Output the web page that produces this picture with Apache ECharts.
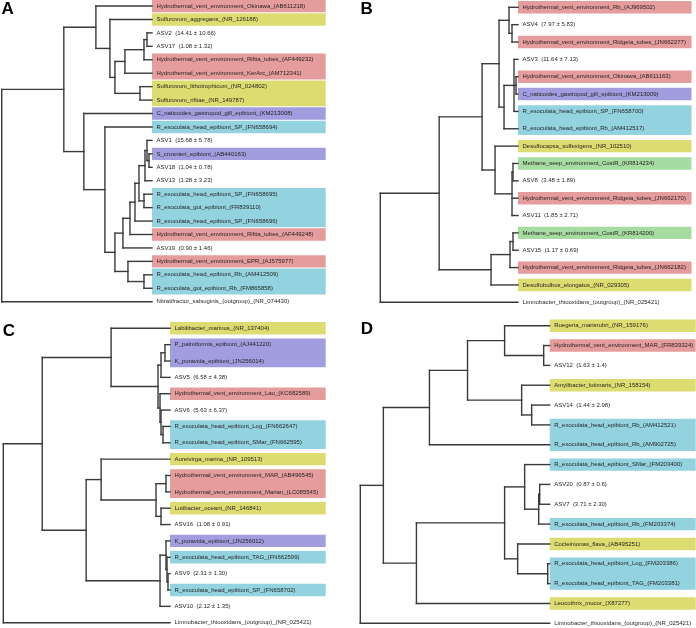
<!DOCTYPE html>
<html>
<head>
<meta charset="utf-8">
<script src="https://cdn.jsdelivr.net/npm/echarts@6/dist/echarts.min.js"></script>
<style>
html,body{margin:0;padding:0;background:#fff;}
#chart{width:696px;height:628px;}
</style>
</head>
<body>
<div id="chart"></div>
<script>
// ---------------- DATA ----------------
// Trees: [nodeDepth, child, child, ...]; a number alone is a leaf index.
const leafDepthA = 150;
const labelsA = [
  "Hydrothermal_vent_environment_Okinawa_(AB611218)",
  "Sulfurovum_aggregans_(NR_126188)",
  "ASV2  (14.41 ± 10.66)",
  "ASV17  (1.08 ± 1.32)",
  "Hydrothermal_vent_environment_Riftia_tubes_(AF449232)",
  "Hydrothermal_vent_environment_KerArc_(AM712341)",
  "Sulfurovum_lithotrophicum_(NR_024802)",
  "Sulfurovum_riftiae_(NR_149787)",
  "C_naticoides_gastropod_gill_epibiont_(KM213008)",
  "R_exoculata_head_epibiont_SP_(FN658694)",
  "ASV1  (15.68 ± 5.78)",
  "S_crosnieri_epibiont_(AB440163)",
  "ASV18  (1.04 ± 0.78)",
  "ASV13  (1.28 ± 3.23)",
  "R_exoculata_head_epibiont_SP_(FN658695)",
  "R_exoculata_gut_epibiont_(FR839110)",
  "R_exoculata_head_epibiont_SP_(FN658696)",
  "Hydrothermal_vent_environment_Riftia_tubes_(AF449248)",
  "ASV19  (0.90 ± 1.46)",
  "Hydrothermal_vent_environment_EPR_(AJ575977)",
  "R_exoculata_head_epibiont_Rb_(AM412509)",
  "R_exoculata_gut_epibiont_Rb_(FM865858)",
  "Nitratifractor_salsuginis_(outgroup)_(NR_074430)"
];
const treeA = [0,
  [62,
    [94, 0,
      [108, 1,
        [113,
          [123, [142, [145, 2, 3], 4], 5],
          [138, 6, 7]
        ]
      ]
    ],
    [82, 8,
      [103, 9,
        [113,
          [121,
            [128,
              [133,
                [137,
                  [143, [145, 10, [147, 11, 12]], 13],
                  [142, 14, 15]
                ],
                16
              ],
              17
            ],
            18
          ],
          [126, 19, [142, 20, 21]]
        ]
      ]
    ]
  ],
  22
];
// highlighted boxes: [firstLeaf, lastLeaf, group]
const boxesA = [[0,0,"hv"],[1,1,"ref"],[4,5,"hv"],[6,7,"ref"],[8,8,"gast"],[9,9,"rex"],
  [11,11,"gast"],[14,16,"rex"],[17,17,"hv"],[19,19,"hv"],[20,21,"rex"]];

const leafDepthB = 138;
const labelsB = [
  "Hydrothermal_vent_environment_Rb_(AJ969502)",
  "ASV4  (7.97 ± 5.83)",
  "Hydrothermal_vent_environment_Ridgeia_tubes_(JN662277)",
  "ASV3  (11.64 ± 7.13)",
  "Hydrothermal_vent_environment_Okinawa_(AB611163)",
  "C_naticoides_gastropod_gill_epibiont_(KM213009)",
  "R_exoculata_head_epibiont_SP_(FN658700)",
  "R_exoculata_head_epibiont_Rb_(AM412517)",
  "Desulfocapsa_sulfexigens_(NR_102510)",
  "Methane_seep_environment_CostR_(KR814234)",
  "ASV8  (3.48 ± 1.89)",
  "Hydrothermal_vent_environment_Ridgeia_tubes_(JN662170)",
  "ASV11  (1.85 ± 2.71)",
  "Methane_seep_environment_CostR_(KR814200)",
  "ASV15  (1.17 ± 0.69)",
  "Hydrothermal_vent_environment_Ridgeia_tubes_(JN662182)",
  "Desulfobulbus_elongatus_(NR_029305)",
  "Limnobacter_thiooxidans_(outgroup)_(NR_025421)"
];
const treeB = [0,
  [59,
    [102,
      [119,
        [129, 0, [132, 1, 2]],
        [124, [134, 3, [136, 4, 5], 6], 7]
      ],
      [115, 8, [132, [133, 9, 10], 11, 12]]
    ],
    [111, [130, [133, 13, 14], 15], 16]
  ],
  17
];
const boxesB = [[0,0,"hv"],[2,2,"hv"],[4,4,"hv"],[5,5,"gast"],[6,7,"rex"],[8,8,"ref"],
  [9,9,"seep"],[11,11,"hv"],[13,13,"seep"],[15,15,"hv"],[16,16,"ref"]];

const leafDepthC = 167;
const labelsC = [
  "Labilibacter_marinus_(NR_137404)",
  "P_palmiformis_epibiont_(AJ441220)",
  "K_puravida_epibiont_(JN256014)",
  "ASV5  (6.58 ± 4.38)",
  "Hydrothermal_vent_environment_Lau_(KC682589)",
  "ASV6  (5.63 ± 6.37)",
  "R_exoculata_head_epibiont_Log_(FN662647)",
  "R_exoculata_head_epibiont_SMar_(FN662595)",
  "Aureivirga_marina_(NR_109513)",
  "Hydrothermal_vent_environment_MAR_(AB496545)",
  "Hydrothermal_vent_environment_Marian_(LC085545)",
  "Lutibacter_oceani_(NR_146841)",
  "ASV16  (1.08 ± 0.91)",
  "K_puravida_epibiont_(JN256012)",
  "R_exoculata_head_epibiont_TAG_(FN662599)",
  "ASV9  (2.31 ± 1.30)",
  "R_exoculata_head_epibiont_SP_(FN658702)",
  "ASV10  (2.12 ± 1.35)",
  "Limnobacter_thiooxidans_(outgroup)_(NR_025421)"
];
const treeC = [0,
  [39,
    [108, 0,
      [155,
        [158, [162, 1, 2], 3],
        [157, 4, [158, 5, [160, 6, 7]]]
      ]
    ],
    [83,
      [98, 8, [153, [163, 9, 10], [158, 11, 12]]],
      [157, [163, 13, [164, 14, [165, 15, 16]]], 17]
    ]
  ],
  18
];
const boxesC = [[0,0,"ref"],[1,2,"gast"],[4,4,"hv"],[6,7,"rex"],[8,8,"ref"],[9,10,"hv"],
  [11,11,"ref"],[13,13,"gast"],[14,14,"rex"],[16,16,"rex"]];

const leafDepthD = 189;
const labelsD = [
  "Ruegeria_marisrubri_(NR_159176)",
  "Hydrothermal_vent_environment_MAR_(FR839324)",
  "ASV12  (1.63 ± 1.4)",
  "Amylibacter_lutimaris_(NR_158154)",
  "ASV14  (1.44 ± 2.98)",
  "R_exoculata_head_epibiont_Rb_(AM412521)",
  "R_exoculata_head_epibiont_Rb_(AM902725)",
  "R_exoculata_head_epibiont_SMar_(FM203400)",
  "ASV20  (0.87 ± 0.6)",
  "ASV7  (3.71 ± 2.30)",
  "R_exoculata_head_epibiont_Rb_(FM203374)",
  "Cocleimonas_flava_(AB495251)",
  "R_exoculata_head_epibiont_Log_(FM203386)",
  "R_exoculata_head_epibiont_TAG_(FM203381)",
  "Leucothrix_mucor_(X87277)",
  "Limnobacter_thiooxidans_(outgroup)_(NR_025421)"
];
const treeD = [0,
  [23,
    [69,
      [107,
        [144, 0, [183, 1, 2]],
        [161, 3, [171, 4, 5]]
      ],
      6
    ],
    [56,
      [144,
        [164, 7, [178, [179, 8, 9], 10]],
        [157, 11, [187, 12, 13]]
      ],
      14
    ]
  ],
  15
];
const boxesD = [[0,0,"ref"],[1,1,"hv"],[3,3,"ref"],[5,6,"rex"],[7,7,"rex"],[10,10,"rex"],
  [11,11,"ref"],[12,13,"rex"],[14,14,"ref"]];

const panelLetters = ["A", "B", "C", "D"];

// ---------------- STYLE / LAYOUT ----------------
const groupColors = {hv: "#e59c9c", ref: "#dcdc70", gast: "#a29ddf", rex: "#93d3e0", seep: "#a6dba1"};
const layout = [
  {rootX: 1.7,   leafX: 152,   top: 6,     bottom: 301.7, boxRight: 325.7, letterX: 1.5,  letterY: 9},
  {rootX: 380.3, leafX: 518,   top: 7.3,   bottom: 302.3, boxRight: 691.5, letterX: 360.5, letterY: 9},
  {rootX: 3.3,   leafX: 170,   top: 328.3, bottom: 622.7, boxRight: 325.7, letterX: 2.8,  letterY: 331},
  {rootX: 360.3, leafX: 549.7, top: 325.7, bottom: 623.3, boxRight: 695.7, letterX: 360.8, letterY: 329}
];
const LINE_COLOR = "#3a3a3a";
const LINE_W = 1.4;
const BOX_HALF = 6.2;
const TEXT_FONT = '6px "Liberation Sans", Arial, sans-serif';
const TEXT_COLOR = "#231f20";

const panels = [
  {tree: treeA, labels: labelsA, boxes: boxesA, leafDepth: leafDepthA},
  {tree: treeB, labels: labelsB, boxes: boxesB, leafDepth: leafDepthB},
  {tree: treeC, labels: labelsC, boxes: boxesC, leafDepth: leafDepthC},
  {tree: treeD, labels: labelsD, boxes: boxesD, leafDepth: leafDepthD}
];

function buildSegments(tree, leafDepth) {
  const segs = [];
  function walk(node) {
    if (typeof node === "number") return {x: leafDepth, y: node};
    const depth = node[0];
    const kids = node.slice(1).map(walk);
    const y = (kids[0].y + kids[kids.length - 1].y) / 2;
    segs.push([depth, kids[0].y, depth, kids[kids.length - 1].y]);
    kids.forEach(k => segs.push([depth, k.y, k.x, k.y]));
    return {x: depth, y: y};
  }
  walk(tree);
  return segs;
}

const grids = [], xAxes = [], yAxes = [], series = [], graphics = [];
panels.forEach((p, i) => {
  const L = layout[i];
  grids.push({left: L.rootX, top: L.top, width: L.leafX - L.rootX, height: L.bottom - L.top, containLabel: false});
  xAxes.push({type: "value", gridIndex: i, min: 0, max: p.leafDepth, show: false});
  yAxes.push({type: "value", gridIndex: i, min: 0, max: p.labels.length - 1, inverse: true, show: false});

  // boxes
  series.push({
    type: "custom", xAxisIndex: i, yAxisIndex: i, clip: false, silent: true, z: 1,
    data: p.boxes.map(b => [p.leafDepth, b[0], b[1]]),
    encode: {x: 0, y: [1, 2]},
    renderItem: function (params, api) {
      const a = api.coord([api.value(0), api.value(1)]);
      const b = api.coord([api.value(0), api.value(2)]);
      const g = p.boxes[params.dataIndex][2];
      return {type: "rect", shape: {x: a[0], y: a[1] - BOX_HALF, width: L.boxRight - a[0], height: b[1] - a[1] + 2 * BOX_HALF},
        style: {fill: groupColors[g]}};
    }
  });
  // tree lines
  series.push({
    type: "custom", xAxisIndex: i, yAxisIndex: i, clip: false, silent: true, z: 2,
    data: buildSegments(p.tree, p.leafDepth),
    encode: {x: [0, 2], y: [1, 3]},
    renderItem: function (params, api) {
      const a = api.coord([api.value(0), api.value(1)]);
      const b = api.coord([api.value(2), api.value(3)]);
      return {type: "line", shape: {x1: a[0], y1: a[1], x2: b[0], y2: b[1]},
        style: {stroke: LINE_COLOR, lineWidth: LINE_W, lineCap: "square"}};
    }
  });
  // leaf labels
  series.push({
    type: "custom", xAxisIndex: i, yAxisIndex: i, clip: false, silent: true, z: 3,
    data: p.labels.map((t, k) => [p.leafDepth, k]),
    encode: {x: 0, y: 1},
    renderItem: function (params, api) {
      const a = api.coord([api.value(0), api.value(1)]);
      return {type: "text", x: a[0] + 4.5, y: a[1],
        style: {text: p.labels[params.dataIndex], font: TEXT_FONT, fill: TEXT_COLOR, align: "left", verticalAlign: "middle"}};
    }
  });
  graphics.push({type: "text", left: null, x: L.letterX, y: L.letterY,
    style: {text: panelLetters[i], font: 'bold 17px "Liberation Sans", Arial, sans-serif', fill: "#000",
      textAlign: "left", textVerticalAlign: "middle", align: "left", verticalAlign: "middle"}});
});

const chart = echarts.init(document.getElementById("chart"), null, {renderer: "canvas"});
chart.setOption({
  animation: false,
  backgroundColor: "#fff",
  grid: grids, xAxis: xAxes, yAxis: yAxes, series: series, graphic: graphics
});
</script>
</body>
</html>
